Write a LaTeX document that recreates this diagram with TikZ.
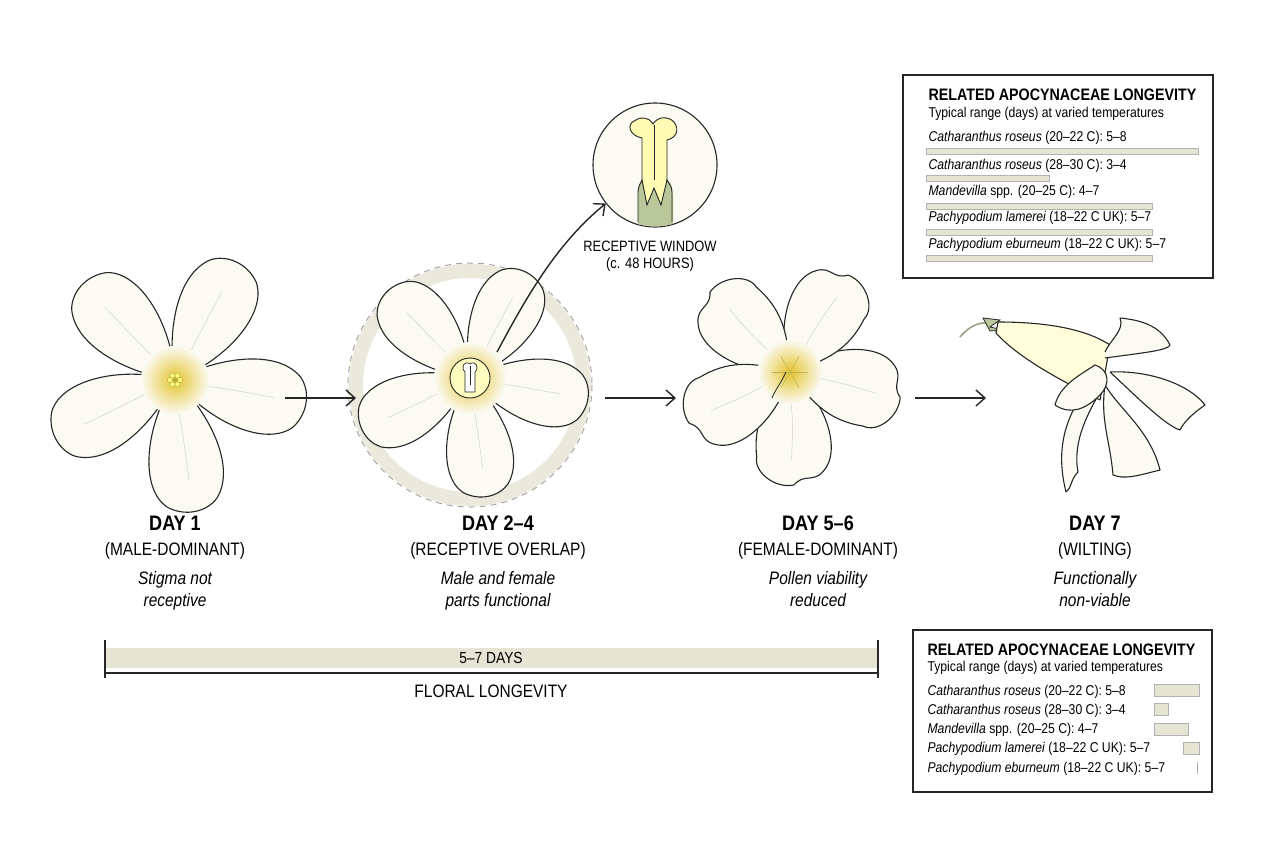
\documentclass[tikz,border=0pt]{standalone}
\usepackage{fontspec}
\setmainfont{Liberation Sans}[FakeStretch=0.86]
\usetikzlibrary{arrows.meta,calc}
\definecolor{ink}{HTML}{262626}
\definecolor{beige}{HTML}{E6E4D2}
\definecolor{glow}{HTML}{E3C42C}
\definecolor{cream}{HTML}{FBFAF3}
\definecolor{leaf}{HTML}{B9C79A}
\begin{document}
\begin{tikzpicture}[x=1pt,y=-1pt,
  petalst/.style={fill=cream,draw=ink,line width=1.1pt,line join=round},
  vein/.style={draw=gray!35,line width=0.5pt},
  flow/.style={draw=ink,line width=1.4pt,-{Straight Barb[length=9pt,width=16pt,line width=1.4pt]}},
  day/.style={font=\bfseries\fontsize{21}{23}\selectfont,anchor=base},
  sub/.style={font=\fontsize{18}{20}\selectfont,anchor=base},
  note/.style={font=\itshape\fontsize{18}{22}\selectfont,align=center,anchor=north},
  petal/.pic={\draw[petalst] (0,0) .. controls (30,-32) and (85,-62) .. (118,-42) .. controls (132,-32) and (137,-10) .. (127,8) .. controls (108,36) and (45,30) .. (0,0);
              \draw[vein] (20,-2) .. controls (55,-8) .. (100,-14);},
  rpetal/.pic={\draw[petalst] (0,0) .. controls (25,-40) and (80,-65) .. (105,-45) .. controls (118,-35) and (108,-25) .. (122,-15) .. controls (128,5) and (112,30) .. (95,28) .. controls (60,35) and (35,25) .. (0,0);
              \draw[vein] (20,-2) .. controls (55,-8) .. (95,-10);},
  boxt/.style={font=\bfseries\fontsize{16.6}{18}\selectfont,anchor=base west},
  boxs/.style={font=\fontsize{14.2}{16}\selectfont,anchor=base west},
  bar/.style={fill=beige,draw=gray!60,line width=0.5pt}
]
\useasboundingbox (0,0) rectangle (1264,848);
\fill[white] (0,0) rectangle (1264,848);

% ---------- flower 1
\coordinate (f1) at (175,380);
\foreach \a in {-90,-18,54,126,198} \pic[rotate=\a] at (f1) {petal};
\shade[inner color=glow, outer color=cream] (f1) circle (34);
\foreach \a in {0,60,...,300} \fill[yellow!50!white,draw=olive!70,line width=0.4pt] ($(f1)+(\a:5)$) circle (2.6);
\fill[olive!70] (f1) circle (2);

% ---------- flower 2
\draw[beige!80,line width=14pt] (470,385) circle (114);
\draw[gray!70,line width=1pt,dash pattern=on 6pt off 5pt] (470,385) circle (122);
\coordinate (f2) at (470,378);
\foreach \a in {-90,-18,54,126,198} \pic[rotate=\a,scale=0.9] at (f2) {petal};
\shade[inner color=glow, outer color=cream] (f2) circle (36);
\draw[ink,fill=yellow!25!white,line width=0.9pt] (f2) circle (20);
\draw[ink,fill=white,line width=0.7pt] (465,392) -- (465,372) .. controls (460,367) and (465,360) .. (470,364) .. controls (475,360) and (480,367) .. (475,372) -- (475,392) -- cycle;
\draw[ink,line width=0.5pt] (470,366) -- (470,385);

% ---------- inset
\node[circle,draw=ink,line width=1.1pt,fill=cream,minimum size=124pt,inner sep=0pt] (ins) at (655,165) {};
\begin{scope}
\clip (655,165) circle (61.5);
\fill[leaf] (638,230) -- (638,196) .. controls (640,182) .. (645,180) -- (665,180) .. controls (671,182) .. (673,196) -- (673,230) -- cycle;
\end{scope}
\draw[ink,fill=yellow!30!white,line width=0.9pt] (642,215) -- (642,138) .. controls (630,136) and (625,124) .. (636,120) .. controls (642,116) and (650,118) .. (653,124) .. controls (658,116) and (668,116) .. (674,122) .. controls (680,130) and (676,138) .. (667,140) -- (667,215) -- cycle;
\draw[ink,line width=0.7pt] (654,125) -- (654,180);
\draw[ink,fill=leaf,line width=0.9pt] (638,222) -- (638,196) .. controls (638,188) .. (642,180) -- (647,205) -- (654,188) -- (661,205) -- (667,180) .. controls (672,188) .. (672,196) -- (672,222);
\node[font=\fontsize{15}{17}\selectfont,align=center,anchor=north] (rw) at (650,237) {RECEPTIVE WINDOW\\(c. 48 HOURS)};
\coordinate (a0) at (497,352);
\draw[flow] (a0) .. controls (525,300) and (555,245) .. (ins.218);

% ---------- flower 3
\coordinate (f3) at (790,372);
\foreach \a in {-95,-20,52,128,200} \pic[rotate=\a,scale=0.92] at (f3) {rpetal};
\shade[inner color=glow, outer color=cream] (f3) circle (32);
\foreach \a in {-120,-60,0,60,120,180} \draw[olive!60,line width=0.6pt] (f3) -- +(\a:18);
\draw[ink,line width=0.8pt] (786,372) .. controls (780,385) and (775,390) .. (772,398);

% ---------- flower 4 (wilting)
\draw[leaf!80!black,line width=1.5pt] (960,337) .. controls (970,325) and (980,322) .. (990,323);
\draw[ink,fill=leaf,line width=0.8pt] (983,318) -- (1000,320) -- (990,327) -- (1004,330) -- (990,331) -- cycle;
\draw[petalst,fill=yellow!15!white] (998,322) .. controls (1030,322) and (1080,325) .. (1110,345) -- (1100,400) .. controls (1070,385) and (1020,360) .. (996,333) -- cycle;
\draw[petalst] (1105,352) .. controls (1110,340) and (1125,330) .. (1120,318) .. controls (1140,320) and (1160,325) .. (1170,345) .. controls (1168,350) and (1150,352) .. (1105,358);
\draw[petalst] (1110,372) .. controls (1150,370) and (1190,385) .. (1205,405) .. controls (1195,412) and (1185,420) .. (1180,430) .. controls (1165,425) and (1140,400) .. (1110,372);
\draw[petalst] (1105,385) .. controls (1120,410) and (1150,430) .. (1160,470) .. controls (1140,475) and (1125,480) .. (1113,475) .. controls (1110,440) and (1100,420) .. (1105,385);
\draw[petalst] (1100,392) .. controls (1090,410) and (1072,440) .. (1078,472) .. controls (1070,480) and (1072,488) .. (1066,492) .. controls (1058,460) and (1060,430) .. (1080,398) -- cycle;
\draw[petalst] (1095,365) .. controls (1080,375) and (1060,385) .. (1055,405) .. controls (1070,415) and (1085,410) .. (1100,395) .. controls (1110,385) and (1110,370) .. (1095,365);

% ---------- arrows
\coordinate (b1) at (285,398); \coordinate (e1) at (356,398);
\coordinate (b2) at (605,398); \coordinate (e2) at (676,398);
\coordinate (b3) at (915,398); \coordinate (e3) at (986,398);
\draw[flow] (b1) -- (e1);
\draw[flow] (b2) -- (e2);
\draw[flow] (b3) -- (e3);

% ---------- stage labels
\node[day] (d1) at (175,530) {DAY 1};
\node[sub] (s1) at (175,555) {(MALE-DOMINANT)};
\node[note] (n1) at (175,568) {Stigma not\\receptive};
\node[day] (d2) at (498,530) {DAY 2–4};
\node[sub] (s2) at (498,555) {(RECEPTIVE OVERLAP)};
\node[note] (n2) at (498,568) {Male and female\\parts functional};
\node[day] (d3) at (818,530) {DAY 5–6};
\node[sub] (s3) at (818,555) {(FEMALE-DOMINANT)};
\node[note] (n3) at (818,568) {Pollen viability\\reduced};
\node[day] (d4) at (1095,530) {DAY 7};
\node[sub] (s4) at (1095,555) {(WILTING)};
\node[note] (n4) at (1095,568) {Functionally\\non-viable};

% ---------- timeline
\fill[beige] (105,648) rectangle (878,668);
\draw[ink,line width=1.1pt] (105,640) -- (105,678) (878,640) -- (878,678) (105,673) -- (878,673);
\node[font=\fontsize{16}{18}\selectfont] (tl) at (491,658) {5–7 DAYS};
\node[font=\fontsize{18}{20}\selectfont] (fl) at (491,691) {FLORAL LONGEVITY};

% ---------- box 1
\draw[ink,line width=1.1pt,fill=white] (903,75) rectangle (1213,278);
\node[boxt] at (925,101) {RELATED APOCYNACEAE LONGEVITY};
\node[boxs] at (925,118) {Typical range (days) at varied temperatures};
\node[boxs] at (925,142) {\itshape Catharanthus roseus\upshape{} (20–22 C): 5–8};
\node[boxs] at (925,170) {\itshape Catharanthus roseus\upshape{} (28–30 C): 3–4};
\node[boxs] at (925,196) {\itshape Mandevilla\upshape{} spp. (20–25 C): 4–7};
\node[boxs] at (925,222) {\itshape Pachypodium lamerei\upshape{} (18–22 C UK): 5–7};
\node[boxs] at (925,248) {\itshape Pachypodium eburneum\upshape{} (18–22 C UK): 5–7};
\draw[bar] (926,148) rectangle (1198,154);
\draw[bar] (926,175) rectangle (1049,181);
\draw[bar] (926,203) rectangle (1152,209);
\draw[bar] (926,229) rectangle (1152,235);
\draw[bar] (926,255) rectangle (1152,261);

% ---------- box 2
\draw[ink,line width=1.1pt,fill=white] (913,630) rectangle (1212,792);
\node[boxt] at (924,655) {RELATED APOCYNACEAE LONGEVITY};
\node[boxs] at (924,671) {Typical range (days) at varied temperatures};
\node[boxs] at (924,695) {\itshape Catharanthus roseus\upshape{} (20–22 C): 5–8};
\node[boxs] at (924,714) {\itshape Catharanthus roseus\upshape{} (28–30 C): 3–4};
\node[boxs] at (924,733) {\itshape Mandevilla\upshape{} spp. (20–25 C): 4–7};
\node[boxs] at (924,752) {\itshape Pachypodium lamerei\upshape{} (18–22 C UK): 5–7};
\node[boxs] at (924,772) {\itshape Pachypodium eburneum\upshape{} (18–22 C UK): 5–7};
\draw[bar] (1154,684) rectangle (1199,696);
\draw[bar] (1154,703) rectangle (1168,715);
\draw[bar] (1154,723) rectangle (1188,735);
\draw[bar] (1183,742) rectangle (1199,754);
\draw[gray!60,line width=0.6pt] (1197,762) -- (1197,774);
\end{tikzpicture}
\end{document}
